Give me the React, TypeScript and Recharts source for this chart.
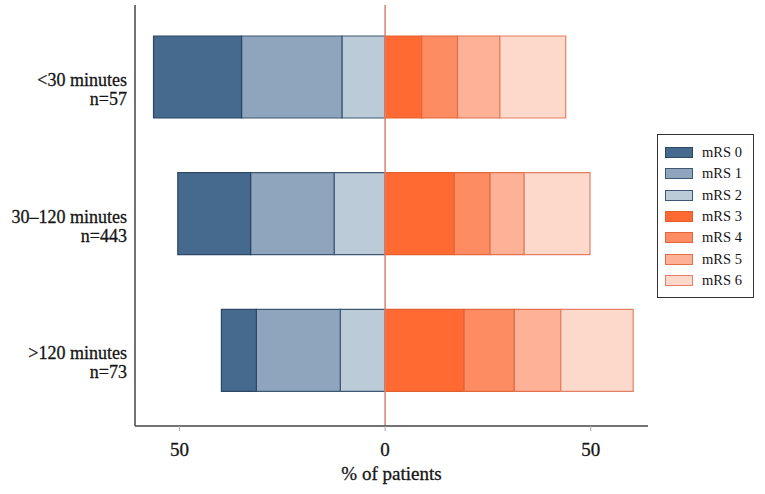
import { BarChart, Bar, XAxis, YAxis, ReferenceLine, Legend } from 'recharts';

const categories = ['<30 minutes', '30–120 minutes', '>120 minutes'];
const counts = [57, 443, 73];
const mrsLabels = ['mRS 0', 'mRS 1', 'mRS 2', 'mRS 3', 'mRS 4', 'mRS 5', 'mRS 6'];
// % of patients per mRS grade, one entry per category
const mrs0 = [21.4, 17.7, 8.5];
const mrs1 = [24.4, 20.3, 20.4];
const mrs2 = [10.5, 12.4, 10.9];
const mrs3 = [8.9, 16.8, 19.2];
const mrs4 = [8.7, 8.7, 12.2];
const mrs5 = [10.3, 8.3, 11.3];
const mrs6 = [16.0, 16.0, 17.6];
const xTicks = [-50, 0, 50];

const FILLS = ['#466a8d', '#8fa5bd', '#bccbd8', '#ff6a33', '#fd8c62', '#fdb297', '#fdd9cb'];
const STROKES = ['#2d4864', '#3e5874', '#3e5874', '#e2602f', '#e2673a', '#e2704a', '#e48064'];
const FONT = "'Times New Roman', 'Liberation Serif', 'DejaVu Serif', serif";
const INK = '#151515';

const series = [mrs0, mrs1, mrs2, mrs3, mrs4, mrs5, mrs6];
// mRS 0-2 go to the left of zero
const data = categories.map((name, i) => {
    const row: Record<string, number | string> = { name };
    series.forEach((s, k) => { row[`m${k}`] = k < 3 ? -s[i] : s[i]; });
    return row;
});
// stacking order: closest to zero first
const barOrder = [2, 1, 0, 3, 4, 5, 6];

const CategoryTick = ({ x, y, payload }: any) => (
    <text x={x} y={y} textAnchor="end" style={{ fontFamily: FONT }} fontSize={18} fill={INK} stroke={INK} strokeWidth={0.3}>
        <tspan x={x} dy={8.5}>{payload.value}</tspan>
        <tspan x={x} dy={19}>{`n=${counts[payload.index]}`}</tspan>
    </text>
);

const LegendBox = () => (
    <div style={{ border: '1.5px solid #333', background: '#fff', padding: '7px 0 6px 7px', width: 88, fontFamily: FONT, fontSize: 14.5, color: INK }}>
        {mrsLabels.map((l, i) => (
            <div key={l} style={{ display: 'flex', alignItems: 'center', height: 21.3 }}>
                <span style={{ display: 'inline-block', width: 26, height: 9, background: FILLS[i], border: `1px solid ${STROKES[i]}`, marginRight: 9 }} />
                <span>{l}</span>
            </div>
        ))}
    </div>
);

export default function App() {
    return (
        <div style={{ position: 'absolute', left: 0, top: 0, fontFamily: FONT }}>
            <BarChart width={765} height={494} data={data} layout="vertical" stackOffset="sign"
                margin={{ top: 5, right: 117, bottom: 0, left: 0 }}>
                <XAxis type="number" domain={[-60.8, 63.9]} ticks={xTicks} tickFormatter={(v: number) => String(Math.abs(v))}
                    height={68} allowDataOverflow
                    axisLine={{ stroke: '#444', strokeWidth: 1.5 }} tickLine={{ stroke: '#aaa' }} tickSize={5} tickMargin={12}
                    tick={{ fontSize: 19, style: { fontFamily: FONT }, fill: INK, stroke: INK, strokeWidth: 0.3 }}
                    label={{ value: '% of patients', position: 'insideBottom', offset: 14, fontSize: 19, style: { fontFamily: FONT }, fill: INK, stroke: INK, strokeWidth: 0.3 }} />
                <YAxis type="category" dataKey="name" width={135} padding={{ top: 4, bottom: 7 }}
                    axisLine={{ stroke: '#444', strokeWidth: 1.5 }} tickLine={false} tickSize={0} tickMargin={8}
                    tick={<CategoryTick />} />
                <ReferenceLine x={0} stroke="#d9806f" strokeWidth={1.5} />
                {barOrder.map(k => (
                    <Bar key={k} dataKey={`m${k}`} stackId="a" barSize={82} fill={FILLS[k]} stroke={STROKES[k]}
                        strokeWidth={1.2} isAnimationActive={false} />
                ))}
                <Legend layout="vertical" align="center" verticalAlign="middle" content={<LegendBox />}
                    wrapperStyle={{ left: 657, top: 134, width: 97 }} />
            </BarChart>
        </div>
    );
}
